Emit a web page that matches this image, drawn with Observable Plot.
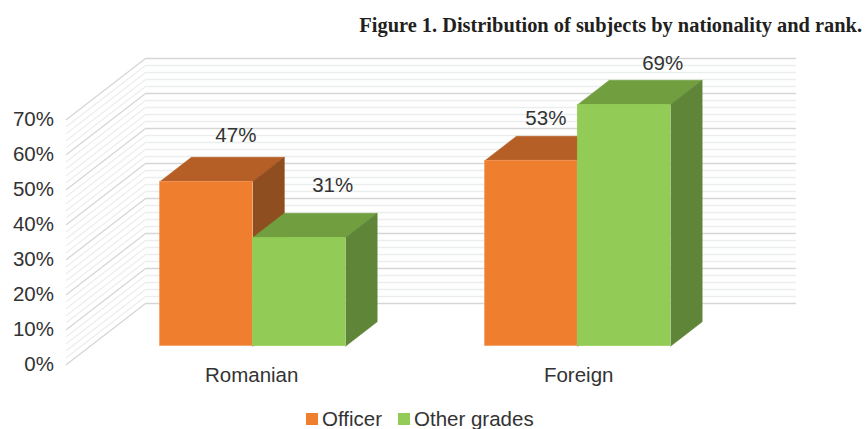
<!DOCTYPE html>
<html>
<head>
<meta charset="utf-8">
<script src="https://cdn.jsdelivr.net/npm/d3@7"></script>
<script src="https://cdn.jsdelivr.net/npm/@observablehq/plot@0.6"></script>
<style>
  html,body{margin:0;padding:0;background:#fff;width:865px;height:429px;overflow:hidden}
  #title{height:44px;box-sizing:border-box;padding:15px 3px 0 0;text-align:right;font:bold 20.4px/20px "Liberation Serif",serif;color:#231f20;white-space:nowrap}
  #chart svg{display:block}
  #legend{height:29px;position:relative;font:20.5px/20px "Liberation Sans",sans-serif;color:#333;display:flex;align-items:center;padding:8px 0 0 306px;box-sizing:border-box}
  #legend i{display:inline-block;width:12px;height:12px;margin-right:4px}
  #legend span{margin-right:16px}
</style>
</head>
<body>
<div id="title">Figure 1. Distribution of subjects by nationality and rank.</div>
<div id="chart"></div>
<div id="legend"></div>
<script>
const categories = ["Romanian", "Foreign"];
const seriesNames = ["Officer", "Other grades"];
const officer = [47, 53];
const otherGrades = [31, 69];
const tickValues = [0, 10, 20, 30, 40, 50, 60, 70];

const shades = {
  "Officer": {front: "#ef7e2f", top: "#b55f26", side: "#8f4e20", edge: "#f3a56f"},
  "Other grades": {front: "#92cb55", top: "#719e3f", side: "#5f8539", edge: "#92cb55"}
};

// oblique projection: depth z (0 front, 1 back) shifts x and y in data units
const depthX = 0.851, depthY = 17.43;
const zFront = 0.3, zBack = 0.7;
const px = (x, z) => x + depthX * z;
const py = (v, z) => v + depthY * z;
const groupCentres = [1.75, 5.25];

// floor and wall gridlines
const gridValues = d3.range(0, 71, 2);
const gridPts = v => [
  {v, x: px(0, 0), y: py(v, 0)},
  {v, x: px(0, 1), y: py(v, 1)},
  {v, x: px(7, 1), y: py(v, 1)}
];
const minor = gridValues.filter(v => v % 10 !== 0).flatMap(gridPts);
const major = gridValues.filter(v => v % 10 === 0).flatMap(gridPts);

function poly(pts, fill) {
  return Plot.line(pts, {x: d => d[0], y: d => d[1], fill, stroke: fill, strokeWidth: 0.6, curve: "linear"});
}

function bar(c, v, name, offset) {
  const x0 = groupCentres[c] + offset, x1 = x0 + 1, s = shades[name];
  return [
    poly([[px(x0,zFront),py(v,zFront)],[px(x0,zBack),py(v,zBack)],[px(x1,zBack),py(v,zBack)],[px(x1,zFront),py(v,zFront)]], s.top),
    poly([[px(x1,zFront),py(0,zFront)],[px(x1,zBack),py(0,zBack)],[px(x1,zBack),py(v,zBack)],[px(x1,zFront),py(v,zFront)]], s.side),
    Plot.rect([{name, v}], {x1: px(x0,zFront), x2: px(x1,zFront), y1: py(0,zFront), y2: py(v,zFront), fill: s.front, stroke: s.edge, strokeWidth: 0.5})
  ];
}

function valueLabel(c, v, offset, dx, dy) {
  const x = groupCentres[c] + offset + 0.5;
  return Plot.text([v], {x: px(x, zBack), y: py(v, zBack), text: d => d + "%", dx, dy, fontSize: 20.5, fill: "#333"});
}

function categoryLabel(c, dx) {
  return Plot.text([categories[c]], {x: px(groupCentres[c], zFront), y: 0, text: d => d, dx, dy: 11, fontSize: 20.5, fill: "#333"});
}

const plot = Plot.plot({
  width: 865,
  height: 356,
  marginLeft: 66, marginRight: 70, marginTop: 14, marginBottom: 36,
  x: {domain: [0, 7 + depthX], axis: null},
  y: {domain: [0, 70 + depthY], axis: null},
  style: {fontFamily: "'Liberation Sans',sans-serif", background: "#fff", overflow: "visible"},
  marks: [
    Plot.line(minor, {x: "x", y: "y", z: "v", stroke: "#eceeee", strokeWidth: 1.3}),
    Plot.line(major, {x: "x", y: "y", z: "v", stroke: "#d6d6d6", strokeWidth: 1.3}),
    Plot.axisY({ticks: tickValues, tickSize: 0, tickPadding: 12.5, tickFormat: d => d + "%", fontSize: 20.5, color: "#333", label: null}),
    ...categories.flatMap((cat, c) => [
      ...bar(c, officer[c], seriesNames[0], -1),
      ...bar(c, otherGrades[c], seriesNames[1], 0)
    ]),
    valueLabel(0, officer[0], -1, -2, -22),
    valueLabel(0, otherGrades[0], 0, 2, -28),
    valueLabel(1, officer[1], -1, -17, -18),
    valueLabel(1, otherGrades[1], 0, 7, -17),
    categoryLabel(0, -1),
    categoryLabel(1, 1)
  ]
});
document.getElementById("chart").appendChild(plot);

const legend = document.getElementById("legend");
seriesNames.forEach(n => {
  const sp = document.createElement("span");
  sp.style.display = "inline-flex"; sp.style.alignItems = "center";
  sp.innerHTML = `<i style="background:${shades[n].front}"></i>${n}`;
  legend.appendChild(sp);
});
</script>
</body>
</html>
